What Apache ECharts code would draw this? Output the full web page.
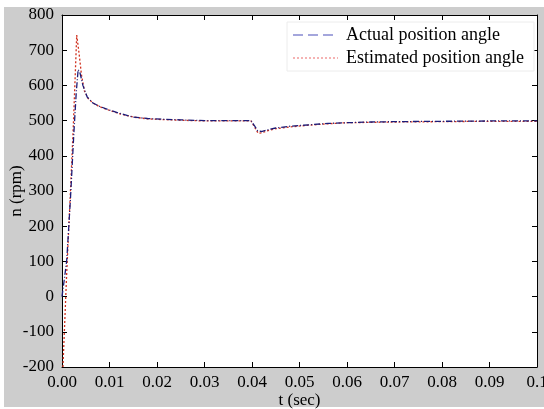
<!DOCTYPE html>
<html><head><meta charset="utf-8">
<script src="https://cdn.jsdelivr.net/npm/echarts@6/dist/echarts.min.js"></script>
<style>html,body{margin:0;padding:0;background:#fff}#c{width:544px;height:409px}</style>
</head><body><div id="c"></div>
<script>
var seriesNames = ['Actual position angle', 'Estimated position angle'];
var timeActual = [0, 0.0005, 0.001, 0.0018, 0.0025, 0.0030, 0.0034, 0.0038, 0.0044, 0.0053, 0.0065, 0.008, 0.010, 0.012, 0.015, 0.018, 0.021, 0.025, 0.030, 0.035, 0.0398, 0.0405, 0.0412, 0.042, 0.043, 0.045, 0.048, 0.052, 0.056, 0.060, 0.065, 0.070, 0.080, 0.090, 0.100];
var actualRpm  = [0, 50, 104, 283, 465, 580, 645, 635, 600, 567, 550, 540, 530, 521, 510, 506, 504, 502, 500, 500, 500, 486, 471, 469, 473, 479, 484, 488, 492, 494, 496, 497, 498, 499, 499];
var timeEst = [0.0002, 0.0010, 0.0017, 0.0024, 0.0031, 0.0036, 0.0041, 0.0047, 0.0055, 0.0065, 0.008, 0.010, 0.012, 0.015, 0.018, 0.021, 0.025, 0.030, 0.035, 0.0398, 0.0405, 0.0413, 0.042, 0.043, 0.045, 0.048, 0.052, 0.056, 0.060, 0.065, 0.070, 0.080, 0.090, 0.100];
var estRpm  = [-200, 70, 275, 490, 743, 690, 630, 585, 563, 550, 539, 529, 520, 510, 505, 503, 501, 499, 499, 499, 482, 464, 465, 470, 477, 482, 487, 491, 494, 495, 496, 497, 498, 498];

function pairs(t, v) { return t.map(function (x, i) { return [x, v[i]]; }); }

var font = "'Liberation Serif', 'Times New Roman', Times, serif";
var fs = 17;
var chart = echarts.init(document.getElementById('c'), null, {renderer: 'canvas'});
var axisCommon = {
  axisLine: {show: true, onZero: false, lineStyle: {color: '#000', width: 1}},
  axisTick: {show: true, inside: true, length: 5, lineStyle: {color: '#000'}},
  splitLine: {show: false}
};
chart.setOption({
  animation: false,
  textStyle: {fontFamily: font},
  graphic: [{type: 'rect', z: -100, silent: true, shape: {x: 4, y: 7, width: 540, height: 400}, style: {fill: '#cdcdcd'}}],
  grid: {left: 62, top: 15, right: 7, bottom: 42, containLabel: false, outerBoundsMode: 'none',
    show: true, backgroundColor: '#fff', borderWidth: 0},
  legend: {
    show: true, orient: 'vertical', left: 287, top: 22, z: 10,
    padding: [4, 10, 4, 5], itemGap: 5, itemWidth: 45, itemHeight: 14,
    backgroundColor: '#fff', borderColor: '#ececec', borderWidth: 1,
    textStyle: {fontFamily: font, fontSize: 18, color: '#000', padding: [0, 0, 0, 3]},
    data: [
      {name: seriesNames[0], itemStyle: {opacity: 0}, lineStyle: {color: '#a4a6dc', width: 2, type: [10, 5]}},
      {name: seriesNames[1], itemStyle: {opacity: 0}, lineStyle: {color: '#f29a9a', width: 1.5, type: [2, 2]}}
    ]
  },
  xAxis: [
    Object.assign({type: 'value', min: 0, max: 0.1, interval: 0.01, position: 'bottom',
      name: 't (sec)', nameLocation: 'middle', nameGap: 25, nameMoveOverlap: false,
      nameTextStyle: {fontFamily: font, fontSize: fs, color: '#000'},
      axisLabel: {fontFamily: font, fontSize: fs, color: '#000', margin: 7,
        formatter: function (v) { return Math.abs(v - 0.1) < 1e-9 ? '0.1' : v.toFixed(2); }}}, axisCommon),
    Object.assign({type: 'value', min: 0, max: 0.1, interval: 0.01, position: 'top', axisLabel: {show: false}}, axisCommon)
  ],
  yAxis: [
    Object.assign({type: 'value', min: -200, max: 800, interval: 100, position: 'left',
      name: 'n (rpm)', nameLocation: 'middle', nameGap: 37, nameMoveOverlap: false,
      nameTextStyle: {fontFamily: font, fontSize: fs, color: '#000'},
      axisLabel: {fontFamily: font, fontSize: fs, color: '#000', margin: 8}}, axisCommon),
    Object.assign({type: 'value', min: -200, max: 800, interval: 100, position: 'right', axisLabel: {show: false}}, axisCommon)
  ],
  series: [
    {name: seriesNames[0], type: 'line', data: pairs(timeActual, actualRpm), showSymbol: false, symbol: 'none', z: 3,
      lineStyle: {color: '#1c1c78', width: 1.3, type: [6, 2, 1, 2]}, itemStyle: {color: '#1c1c78'}},
    {name: seriesNames[1], type: 'line', data: pairs(timeEst, estRpm), showSymbol: false, symbol: 'none', z: 2,
      lineStyle: {color: '#d0301e', width: 1.3, type: [2, 2]}, itemStyle: {color: '#d0301e'}}
  ]
});
</script></body></html>
